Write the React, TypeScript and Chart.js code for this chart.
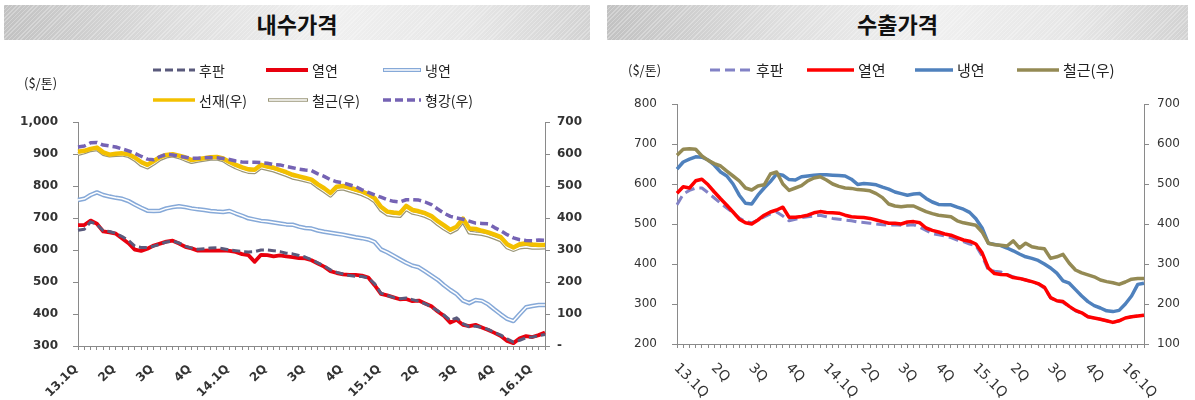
import React, { useEffect, useRef } from 'react';
import { Chart, registerables } from 'chart.js';

Chart.register(...registerables);

// ---------------- data ----------------
const quarterTicks = ['13.1Q', '2Q', '3Q', '4Q', '14.1Q', '2Q', '3Q', '4Q', '15.1Q', '2Q', '3Q', '4Q', '16.1Q'];
const pointsPerQuarter = 6;

// 내수가격 (domestic)
const domesticNames = ['후판', '열연', '냉연', '선재(우)', '철근(우)', '형강(우)'];
const domPlate = [662, 665, 688, 680, 660, 658, 652, 642, 630, 612, 608, 608, 612, 618, 625, 628, 622, 612, 606, 602, 604, 606, 607, 604, 600, 598, 595, 594, 595, 600, 600, 598, 595, 590, 588, 583, 578, 570, 560, 550, 538, 530, 525, 520, 518, 517, 512, 495, 465, 458, 452, 448, 450, 445, 440, 432, 422, 410, 396, 380, 388, 370, 360, 362, 358, 352, 342, 334, 322, 312, 318, 326, 328, 332, 336];
const domHot = [678, 678, 692, 682, 658, 655, 651, 636, 621, 601, 597, 604, 614, 620, 626, 629, 620, 610, 605, 598, 598, 599, 598, 599, 597, 594, 587, 584, 563, 585, 584, 580, 583, 580, 578, 575, 574, 568, 558, 548, 534, 528, 524, 522, 522, 520, 514, 490, 463, 458, 452, 446, 447, 440, 442, 433, 424, 408, 394, 373, 382, 366, 362, 366, 358, 350, 341, 331, 316, 309, 324, 331, 328, 334, 342];
const domCold = [756, 760, 772, 780, 772, 767, 763, 760, 753, 742, 732, 723, 722, 723, 730, 734, 737, 734, 730, 727, 725, 722, 720, 719, 722, 714, 707, 699, 695, 691, 689, 686, 683, 680, 679, 673, 669, 667, 661, 657, 654, 651, 648, 644, 640, 637, 633, 625, 602, 593, 582, 571, 560, 551, 546, 533, 520, 507, 490, 475, 462, 442, 434, 444, 441, 430, 414, 399, 385, 378, 400, 421, 425, 428, 428];
const domWireRod = [607, 610, 616, 620, 605, 598, 601, 602, 599, 589, 575, 566, 578, 590, 597, 599, 595, 589, 581, 584, 587, 590, 591, 586, 575, 566, 558, 552, 551, 566, 561, 557, 550, 543, 535, 530, 525, 520, 505, 493, 478, 498, 500, 495, 489, 483, 474, 462, 435, 420, 417, 415, 438, 425, 421, 415, 406, 390, 377, 363, 373, 398, 367, 366, 360, 355, 348, 340, 318, 308, 318, 321, 317, 316, 316];
const domRebar = [600, 605, 612, 615, 600, 595, 597, 598, 594, 582, 566, 558, 570, 584, 592, 595, 590, 582, 575, 579, 582, 585, 586, 580, 568, 558, 550, 544, 543, 558, 553, 548, 541, 534, 526, 522, 517, 512, 497, 484, 470, 490, 492, 486, 480, 474, 465, 452, 425, 411, 408, 406, 428, 416, 412, 406, 397, 381, 367, 355, 365, 390, 355, 352, 350, 345, 338, 330, 308, 300, 308, 310, 307, 307, 308];
const domSection = [622, 625, 635, 636, 628, 625, 622, 616, 610, 602, 593, 584, 582, 592, 599, 597, 593, 590, 587, 587, 588, 589, 588, 586, 583, 578, 575, 574, 574, 573, 571, 567, 566, 561, 557, 553, 550, 548, 538, 530, 520, 513, 510, 504, 498, 488, 480, 472, 465, 457, 452, 450, 457, 457, 456, 450, 442, 428, 415, 405, 400, 396, 390, 384, 383, 382, 370, 360, 348, 338, 332, 330, 329, 331, 330];

// 수출가격 (export)
const exportNames = ['후판', '열연', '냉연', '철근(우)'];
const expPlate = [548, 575, 584, 590, 590, 578, 565, 552, 540, 528, 515, 506, 503, 510, 518, 525, 530, 520, 508, 512, 516, 518, 520, 522, 518, 514, 512, 510, 508, 505, 504, 502, 500, 498, 497, 498, 497, 497, 498, 492, 484, 476, 473, 470, 466, 460, 456, 450, 446, 420, 385, 382, 380, 374, 368, 364, 360, 355, 350, 340, 315, 307, 304, 293, 283, 277, 268, 265, 262, 258, 254, 258, 265, 268, 270, 272];
const expHot = [577, 593, 590, 608, 612, 598, 580, 563, 547, 530, 512, 503, 500, 510, 522, 530, 535, 542, 517, 517, 519, 522, 528, 531, 529, 528, 527, 522, 518, 517, 516, 514, 510, 506, 502, 502, 500, 505, 506, 503, 490, 484, 480, 475, 472, 466, 460, 457, 450, 428, 390, 376, 374, 373, 366, 364, 360, 356, 351, 342, 316, 308, 306, 294, 284, 278, 268, 265, 262, 258, 254, 258, 265, 268, 270, 272];
const expCold = [637, 655, 662, 668, 667, 660, 647, 630, 620, 600, 572, 552, 550, 572, 590, 606, 625, 622, 611, 610, 618, 620, 622, 623, 623, 622, 621, 620, 612, 599, 601, 600, 598, 592, 587, 580, 576, 572, 575, 576, 564, 555, 549, 548, 548, 542, 537, 529, 513, 490, 452, 449, 446, 440, 433, 425, 418, 414, 409, 400, 390, 377, 358, 352, 336, 320, 306, 296, 290, 283, 281, 284, 300, 320, 349, 352];
const expRebar = [572, 587, 588, 587, 570, 559, 551, 545, 532, 520, 508, 490, 485, 495, 498, 525, 530, 500, 484, 490, 496, 508, 515, 518, 510, 500, 494, 490, 489, 486, 485, 483, 476, 466, 450, 445, 443, 445, 445, 438, 431, 426, 422, 420, 418, 408, 403, 400, 397, 380, 352, 348, 347, 345, 358, 340, 352, 343, 340, 338, 314, 318, 324, 302, 285, 278, 273, 268, 260, 256, 253, 249, 255, 262, 264, 264];

// ---------------- helpers ----------------
function buildLabels(count: number): string[] {
  const out: string[] = [];
  for (let i = 0; i < count; i++) {
    out.push(i % pointsPerQuarter === 0 ? quarterTicks[i / pointsPerQuarter] || '' : '');
  }
  return out;
}

type Swatch = { color: string; width: number; dash?: number[]; inner?: string; innerWidth?: number; legendWidth?: number };

function lineDs(label: string, data: number[], s: Swatch, axis: string, order: number, inner = false): any {
  return {
    type: 'line',
    label,
    data,
    borderColor: inner ? s.inner : s.color,
    backgroundColor: inner ? s.inner : s.color,
    borderWidth: inner ? s.innerWidth || 1.5 : s.width,
    borderDash: inner ? [] : s.dash || [],
    yAxisID: axis,
    order,
    pointRadius: 0,
    pointHoverRadius: 0,
    tension: 0,
    fill: false,
    borderJoinStyle: 'round',
    borderCapStyle: 'butt',
  };
}

function drawSwatch(ctx: CanvasRenderingContext2D, x1: number, x2: number, y: number, s: Swatch) {
  ctx.save();
  ctx.lineCap = 'butt';
  ctx.setLineDash(s.dash || []);
  ctx.strokeStyle = s.color;
  ctx.lineWidth = s.legendWidth || s.width;
  ctx.beginPath();
  ctx.moveTo(x1, y);
  ctx.lineTo(x2, y);
  ctx.stroke();
  if (s.inner) {
    ctx.setLineDash([]);
    ctx.strokeStyle = s.inner;
    ctx.lineWidth = s.innerWidth || 1.5;
    ctx.beginPath();
    ctx.moveTo(x1 + 1, y);
    ctx.lineTo(x2 - 1, y);
    ctx.stroke();
  }
  ctx.restore();
}

type LegendItem = { label: string; swatch: Swatch; x1: number; x2: number; y: number };
type DecorCfg = {
  xFont: string;
  xColor: string;
  dir: number;
  xdx: number;
  xdy: number;
  unitFont: string;
  unitX: number;
  unitY: number;
  legendFont: string;
  legend: LegendItem[];
};

function decorPlugin(cfg: DecorCfg): any {
  return {
    id: 'decor',
    afterDraw(chart: any) {
      const ctx: CanvasRenderingContext2D = chart.ctx;
      const xs = chart.scales.x;
      const area = chart.chartArea;
      const labels = chart.data.labels as string[];
      ctx.save();
      ctx.font = cfg.xFont;
      ctx.fillStyle = cfg.xColor;
      labels.forEach((lab, i) => {
        if (!lab) return;
        const px = xs.getPixelForValue(i);
        ctx.save();
        ctx.translate(px + cfg.xdx, area.bottom + cfg.xdy);
        ctx.rotate((cfg.dir * Math.PI) / 4);
        ctx.textAlign = cfg.dir < 0 ? 'right' : 'left';
        ctx.textBaseline = 'middle';
        ctx.fillText(lab, 0, 0);
        ctx.restore();
      });
      ctx.fillStyle = '#222';
      ctx.textAlign = 'left';
      ctx.textBaseline = 'middle';
      ctx.font = cfg.unitFont;
      ctx.fillText('($/톤)', cfg.unitX, cfg.unitY);
      ctx.font = cfg.legendFont;
      cfg.legend.forEach((it) => {
        drawSwatch(ctx, it.x1, it.x2, it.y, it.swatch);
        ctx.fillStyle = '#222';
        ctx.fillText(it.label, it.x2 + 4, it.y + 0.5);
      });
      ctx.restore();
    },
  };
}

function axisGrid(color: string, len: number) {
  return { display: true, drawOnChartArea: false, drawTicks: true, tickLength: len, color };
}

// ---------------- styles ----------------
const KFONT = '"Noto Sans CJK KR", "Noto Sans", sans-serif';
const domStyles: Swatch[] = [
  { color: '#5a5a7c', width: 3, dash: [8, 4] },
  { color: '#e8000e', width: 3.8 },
  { color: '#86a9d8', width: 4.5, inner: '#ffffff', innerWidth: 1.5, legendWidth: 4 },
  { color: '#f3c000', width: 4.5, legendWidth: 3.5 },
  { color: '#9a9678', width: 4, inner: '#ffffff', innerWidth: 1.5, legendWidth: 3.5 },
  { color: '#7563b4', width: 3.5, dash: [8, 4] },
];
const expStyles: Swatch[] = [
  { color: '#8282c6', width: 3, dash: [10, 5] },
  { color: '#ff0000', width: 3.5 },
  { color: '#4f81bd', width: 3.5 },
  { color: '#948a54', width: 3.5 },
];

function domesticConfig(): any {
  const labels = buildLabels(domHot.length);
  const tickFont = { family: '"DejaVu Sans", sans-serif', size: 12, weight: 'bold' as const };
  return {
    type: 'line',
    data: {
      labels,
      datasets: [
        lineDs(domesticNames[5], domSection, domStyles[5], 'y1', 0),
        lineDs(domesticNames[0], domPlate, domStyles[0], 'y', 1),
        lineDs(domesticNames[1], domHot, domStyles[1], 'y', 2),
        lineDs('', domCold, domStyles[2], 'y', 3, true),
        lineDs(domesticNames[2], domCold, domStyles[2], 'y', 4),
        lineDs(domesticNames[3], domWireRod, domStyles[3], 'y1', 5),
        lineDs('', domRebar, domStyles[4], 'y1', 6, true),
        lineDs(domesticNames[4], domRebar, domStyles[4], 'y1', 7),
      ],
    },
    options: {
      responsive: false,
      animation: false,
      events: [],
      layout: { padding: { top: 122, left: 0, right: 0, bottom: 0 } },
      plugins: { legend: { display: false }, tooltip: { enabled: false }, title: { display: false } },
      scales: {
        x: {
          type: 'category',
          offset: false,
          grid: axisGrid('#8a8a8a', 4),
          border: { display: true, color: '#8a8a8a' },
          ticks: { display: false, autoSkip: false },
          afterFit: (s: any) => { s.height = 54; },
        },
        y: {
          position: 'left',
          min: 300,
          max: 1000,
          grid: axisGrid('#8a8a8a', 5),
          border: { display: true, color: '#8a8a8a' },
          ticks: {
            stepSize: 100,
            padding: 15,
            color: '#333',
            font: tickFont,
            callback: (v: any) => Number(v).toLocaleString('en-US'),
          },
          afterFit: (s: any) => { s.width = 78; },
        },
        y1: {
          position: 'right',
          min: 0,
          max: 700,
          grid: axisGrid('#8a8a8a', 5),
          border: { display: true, color: '#8a8a8a' },
          ticks: {
            stepSize: 100,
            padding: 7,
            color: '#333',
            font: tickFont,
            callback: (v: any) => (Number(v) === 0 ? '-' : String(v)),
          },
          afterFit: (s: any) => { s.width = 55; },
        },
      },
    },
    plugins: [
      decorPlugin({
        xFont: 'bold 12px "DejaVu Sans", sans-serif',
        xColor: '#333',
        dir: -1,
        xdx: -2,
        xdy: 21,
        unitFont: `13px ${KFONT}`,
        unitX: 24,
        unitY: 83,
        legendFont: `14px ${KFONT}`,
        legend: [
          { label: domesticNames[0], swatch: domStyles[0], x1: 153, x2: 195, y: 70 },
          { label: domesticNames[1], swatch: domStyles[1], x1: 266, x2: 308, y: 70 },
          { label: domesticNames[2], swatch: domStyles[2], x1: 383, x2: 421, y: 70 },
          { label: domesticNames[3], swatch: domStyles[3], x1: 153, x2: 195, y: 100 },
          { label: domesticNames[4], swatch: domStyles[4], x1: 268, x2: 308, y: 100 },
          { label: domesticNames[5], swatch: domStyles[5], x1: 383, x2: 421, y: 100 },
        ],
      }),
    ],
  };
}

function exportConfig(): any {
  const labels = buildLabels(expHot.length);
  const tickFont = { family: '"DejaVu Sans", sans-serif', size: 12 };
  return {
    type: 'line',
    data: {
      labels,
      datasets: [
        lineDs(exportNames[3], expRebar, expStyles[3], 'y1', 0),
        lineDs(exportNames[2], expCold, expStyles[2], 'y', 1),
        lineDs(exportNames[1], expHot, expStyles[1], 'y', 2),
        lineDs(exportNames[0], expPlate, expStyles[0], 'y', 3),
      ],
    },
    options: {
      responsive: false,
      animation: false,
      events: [],
      layout: { padding: { top: 104, left: 0, right: 0, bottom: 0 } },
      plugins: { legend: { display: false }, tooltip: { enabled: false }, title: { display: false } },
      scales: {
        x: {
          type: 'category',
          offset: false,
          grid: axisGrid('#8a8a8a', 4),
          border: { display: true, color: '#8a8a8a' },
          ticks: { display: false, autoSkip: false },
          afterFit: (s: any) => { s.height = 56; },
        },
        y: {
          position: 'left',
          min: 200,
          max: 800,
          grid: axisGrid('#8a8a8a', 5),
          border: { display: true, color: '#8a8a8a' },
          ticks: { stepSize: 100, padding: 15, color: '#333', font: tickFont },
          afterFit: (s: any) => { s.width = 77; },
        },
        y1: {
          position: 'right',
          min: 100,
          max: 700,
          grid: axisGrid('#8a8a8a', 5),
          border: { display: true, color: '#8a8a8a' },
          ticks: { stepSize: 100, padding: 8, color: '#333', font: tickFont },
          afterFit: (s: any) => { s.width = 51; },
        },
      },
    },
    plugins: [
      decorPlugin({
        xFont: '14px "DejaVu Sans", sans-serif',
        xColor: '#333',
        dir: 1,
        xdx: -1,
        xdy: 22,
        unitFont: `13px ${KFONT}`,
        unitX: 28,
        unitY: 70,
        legendFont: `15px ${KFONT}`,
        legend: [
          { label: exportNames[0], swatch: expStyles[0], x1: 110, x2: 152, y: 70 },
          { label: exportNames[1], swatch: expStyles[1], x1: 207, x2: 254, y: 70 },
          { label: exportNames[2], swatch: expStyles[2], x1: 315, x2: 353, y: 70 },
          { label: exportNames[3], swatch: expStyles[3], x1: 417, x2: 459, y: 70 },
        ],
      }),
    ],
  };
}

function ChartCanvas({ makeConfig, width, height }: { makeConfig: () => any; width: number; height: number }) {
  const ref = useRef<HTMLCanvasElement>(null);
  useEffect(() => {
    const chart = new Chart(ref.current as HTMLCanvasElement, makeConfig());
    return () => chart.destroy();
  }, []);
  return <canvas ref={ref} width={width} height={height} style={{ width, height, display: 'block' }} />;
}

const headerBg =
  'repeating-linear-gradient(135deg, rgba(255,255,255,0.28) 0px, rgba(255,255,255,0.28) 1px, rgba(0,0,0,0) 1px, rgba(0,0,0,0) 3px), linear-gradient(to right, #c2c2c2 0%, #dedede 30%, #f0f0f0 55%, #e6e6e6 80%, #d2d2d2 100%)';

function Header({ left, width, text }: { left: number; width: number; text: string }) {
  return (
    <div
      style={{
        position: 'absolute',
        left,
        top: 5,
        width,
        height: 35,
        background: headerBg,
        display: 'flex',
        alignItems: 'center',
        justifyContent: 'center',
        fontFamily: KFONT,
        fontWeight: 700,
        fontSize: 22,
        color: '#111',
        zIndex: 2,
      }}
    >
      {text}
    </div>
  );
}

export default function App() {
  return (
    <div style={{ position: 'fixed', left: 0, top: 0, width: 1195, height: 400, background: '#fff', overflow: 'hidden' }}>
      <div style={{ position: 'absolute', left: 0, top: 0 }}>
        <ChartCanvas makeConfig={domesticConfig} width={600} height={400} />
      </div>
      <div style={{ position: 'absolute', left: 600, top: 0 }}>
        <ChartCanvas makeConfig={exportConfig} width={595} height={400} />
      </div>
      <Header left={4} width={586} text="내수가격" />
      <Header left={607} width={581} text="수출가격" />
    </div>
  );
}
